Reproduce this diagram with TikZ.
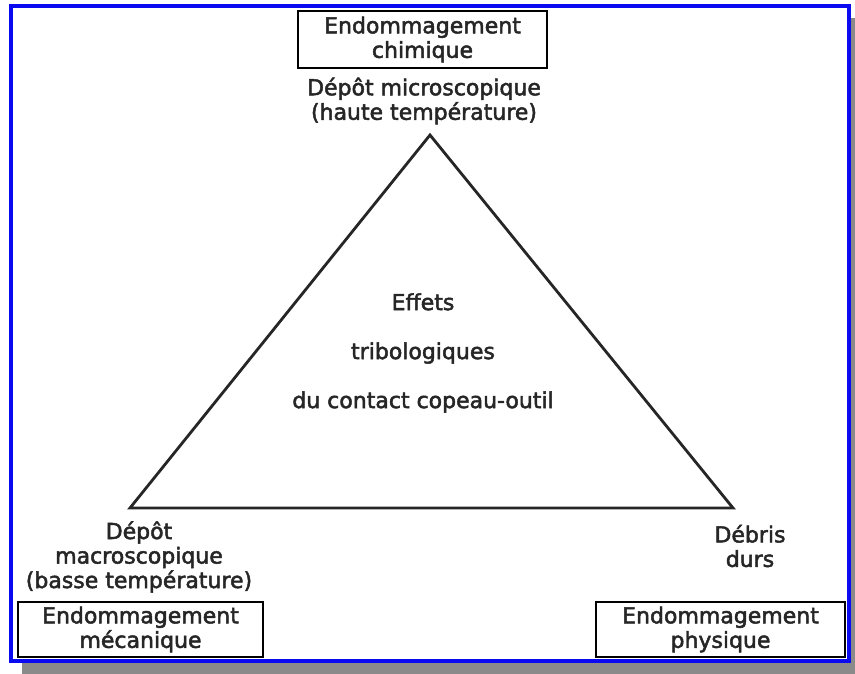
\documentclass[tikz,border=0pt]{standalone}
\usepackage{fontspec}
\setmainfont{DejaVu Sans}[BoldFont=DejaVu Sans, BoldFeatures={FakeBold=2.2}]
\definecolor{shadowgrey}{HTML}{8A8A8A}
\definecolor{frameblue}{HTML}{0A0AF0}
\begin{document}
\begin{tikzpicture}[x=1pt,y=-1pt,
  lbl/.style={font=\fontsize{22}{24.5}\selectfont\bfseries, align=center, inner sep=0pt, text=black!85},
  dmgbox/.style={lbl, draw=black, line width=2.6pt, minimum height=55pt},
  tri/.style={line width=2.8pt, line join=miter, black!85}]
\useasboundingbox (0,0) rectangle (855,674);
% frame with shadow
\fill[shadowgrey] (22,18) rectangle (875,690);
\draw[frameblue, line width=4pt, fill=white] (11,6) rectangle (849,661);
% damage boxes
\node[dmgbox, minimum width=249pt, minimum height=57pt] (chim) at (422.5,39.5) {Endommagement\\chimique};
\node[dmgbox, minimum width=245pt] (meca) at (140.5,629.5) {Endommagement\\mécanique};
\node[dmgbox, minimum width=249pt] (phys) at (720.5,629.5) {Endommagement\\physique};
% vertex labels
\node[lbl] (micro) at (424,101) {Dépôt microscopique\\(haute température)};
\node[lbl] (macro) at (139,557) {Dépôt\\macroscopique\\(basse température)};
\node[lbl] (debris) at (750,546) {Débris\\durs};
% triangle
\coordinate (top) at (430,135);
\coordinate (bl) at (130,508);
\coordinate (br) at (733,508);
\draw[tri] (top) -- (bl) -- (br) -- cycle;
% centre text
\node[lbl, font=\fontsize{22}{49}\selectfont\bfseries] (centre) at (423,353) {Effets\\tribologiques\\du contact copeau-outil};
\end{tikzpicture}
\end{document}
